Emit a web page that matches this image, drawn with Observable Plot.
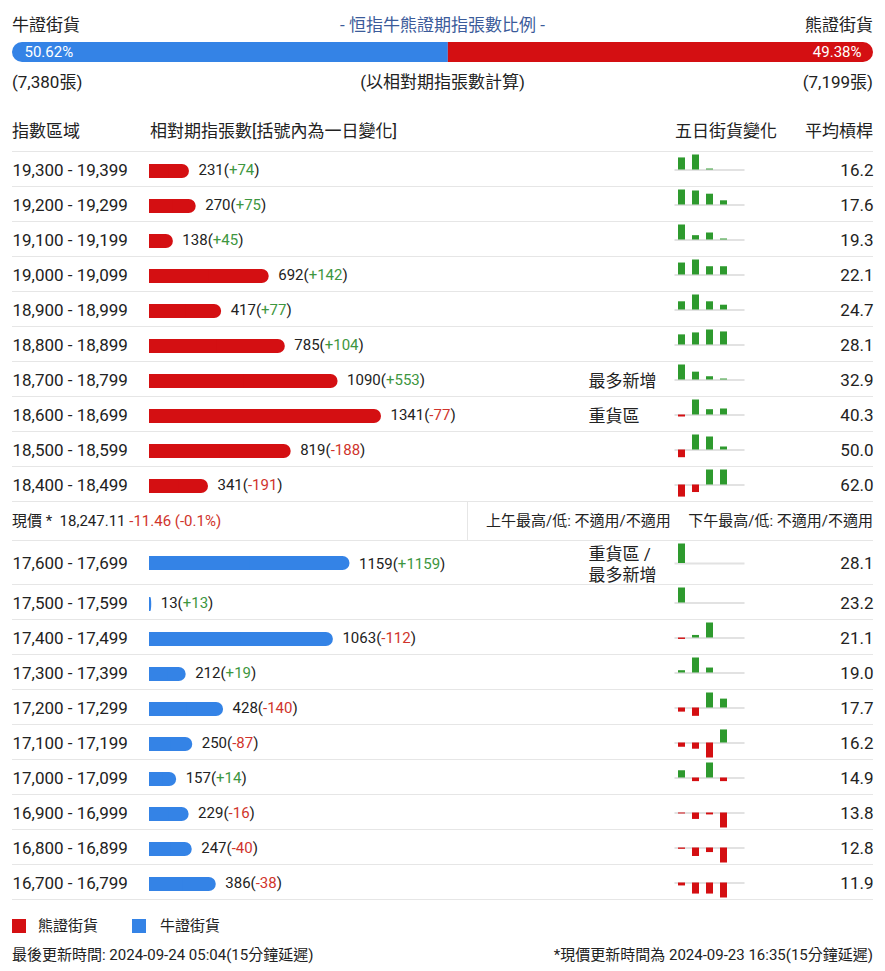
<!DOCTYPE html>
<html><head><meta charset="utf-8">
<script src="https://cdn.jsdelivr.net/npm/d3@7"></script>
<script src="https://cdn.jsdelivr.net/npm/@observablehq/plot@0.6"></script>
<style>
body{margin:0;background:#fff;font-family:Roboto,"Noto Sans CJK TC",sans-serif;color:#222;}
#page{position:relative;width:885px;height:971px;overflow:hidden;}
.abs{position:absolute;white-space:nowrap;}
.abs svg{display:block;overflow:visible;}
</style></head><body><div id="page"></div>
<script>
// ---------- data ----------
const title = "- 恒指牛熊證期指張數比例 -";
const bullLabel = "牛證街貨", bearLabel = "熊證街貨";
const bullTotal = 7380, bearTotal = 7199;
const basisNote = "(以相對期指張數計算)";
const headers = ["指數區域", "相對期指張數[括號內為一日變化]", "五日街貨變化", "平均槓桿"];

const bearRanges = ["19,300 - 19,399","19,200 - 19,299","19,100 - 19,199","19,000 - 19,099","18,900 - 18,999","18,800 - 18,899","18,700 - 18,799","18,600 - 18,699","18,500 - 18,599","18,400 - 18,499"];
const bearCounts = [231,270,138,692,417,785,1090,1341,819,341];
const bearChanges = [74,75,45,142,77,104,553,-77,-188,-191];
const bearLeverage = [16.2,17.6,19.3,22.1,24.7,28.1,32.9,40.3,50.0,62.0];
const bearNotes = ["","","","","","","最多新增","重貨區","",""];
const bearFiveDay = [
  [74,92,6,0,0],[75,70,54,21,0],[45,13,21,3,0],[142,178,98,98,0],[77,141,77,45,0],
  [104,124,154,134,0],[553,289,120,36,0],[-77,577,204,231,0],[-188,366,317,73,0],[-191,-119,237,237,0]
];

const bullRanges = ["17,600 - 17,699","17,500 - 17,599","17,400 - 17,499","17,300 - 17,399","17,200 - 17,299","17,100 - 17,199","17,000 - 17,099","16,900 - 16,999","16,800 - 16,899","16,700 - 16,799"];
const bullCounts = [1159,13,1063,212,428,250,157,229,247,386];
const bullChanges = [1159,13,-112,19,-140,-87,14,-16,-40,-38];
const bullLeverage = [28.1,23.2,21.1,19.0,17.7,16.2,14.9,13.8,12.8,11.9];
const bullNotes = ["重貨區 /\n最多新增","","","","","","","","",""];
const bullFiveDay = [
  [1159,0,0,0,0],[13,0,0,0,0],[-112,200,1175,0,0],[19,124,41,0,0],[-140,-283,510,302,0],
  [-87,-127,-307,267,0],[14,-7,29,-7,0],[-16,-107,-32,-250,0],[-40,-260,-140,-460,0],[-38,-143,-143,-194,0]
];

const spotLabel = "現價 *";
const spotPrice = 18247.11, spotChange = -11.46, spotPct = -0.1;
const amHighLow = "上午最高/低: 不適用/不適用";
const pmHighLow = "下午最高/低: 不適用/不適用";
const lastUpdate = "最後更新時間: 2024-09-24 05:04(15分鐘延遲)";
const spotUpdate = "*現價更新時間為 2024-09-23 16:35(15分鐘延遲)";

// ---------- style ----------
const FONT = 'Roboto, "Noto Sans CJK TC", sans-serif';
const RED = "#d40f12", BLUE = "#3483e6", GREEN_T = "#3d9640", RED_T = "#d0342c", SGREEN = "#2e9a2e", LINE = "#e6e6e6";
const page = document.getElementById("page");

function place(el, left, top) {
  const d = document.createElement("div");
  d.className = "abs"; d.style.left = left + "px"; d.style.top = top + "px";
  d.append(el); page.append(d); return d;
}
function txt(html, opts) {
  const {left, right, center, cy, size = 17, color = "#222"} = opts;
  const d = document.createElement("div");
  d.className = "abs";
  const lh = Math.round(size * 1.3);
  d.style.cssText += `font-size:${size}px;line-height:${lh}px;top:${cy - lh / 2}px;color:${color};`;
  if (center) { d.style.left = "0px"; d.style.width = "885px"; d.style.textAlign = "center"; }
  else if (right != null) d.style.right = right + "px";
  else d.style.left = left + "px";
  d.innerHTML = html;
  page.append(d); return d;
}
const fmt = d3.format(",");

// ---------- header ----------
txt(bullLabel, {left: 12, cy: 25});
txt(title, {center: true, cy: 25, color: "#3b5b9a"});
txt(bearLabel, {right: 12, cy: 25});

const ratioData = [{side: bullLabel, n: bullTotal}, {side: bearLabel, n: bearTotal}];
const tot = bullTotal + bearTotal;
const pf = d3.format(".2%");
const ratio = Plot.plot({
  width: 885, height: 20, marginTop: 0, marginBottom: 0, marginLeft: 12, marginRight: 12,
  style: {background: "transparent", fontFamily: FONT, overflow: "visible"},
  x: {axis: null, domain: [0, 1]}, y: {axis: null},
  color: {domain: [bullLabel, bearLabel], range: [BLUE, RED]},
  marks: [
    Plot.barX(ratioData, {x: "n", fill: "side", offset: "normalize"}),
    Plot.text([ratioData[0]], {frameAnchor: "left", dx: 12, text: d => pf(d.n / tot), fill: "white", fontSize: 15, textAnchor: "start"}),
    Plot.text([ratioData[1]], {frameAnchor: "right", dx: -12, text: d => pf(d.n / tot), fill: "white", fontSize: 15, textAnchor: "end"})
  ]
});
ratio.style.clipPath = "inset(0px 12px 0px 12px round 10px)";
place(ratio, 0, 42);

txt(`(${fmt(bullTotal)}張)`, {left: 12, cy: 82});
txt(basisNote, {center: true, cy: 82});
txt(`(${fmt(bearTotal)}張)`, {right: 12, cy: 82});

txt(headers[0], {left: 12, cy: 131});
txt(headers[1], {left: 150, cy: 131});
txt(headers[2], {left: 675, cy: 131});
txt(headers[3], {right: 12, cy: 131});

// ---------- sections ----------
const xMax = d3.max([...bearCounts, ...bullCounts]);
function rowsOf(ranges, counts, changes, lev, notes) {
  return ranges.map((r, i) => ({range: r, count: counts[i], change: changes[i], lev: lev[i], note: notes[i]}));
}
function colorize(svg) {
  d3.select(svg).selectAll("text").each(function () {
    const s = this.textContent;
    const m = /^(\d+)\(([+-]\d+)\)$/.exec(s);
    if (!m || this.querySelector("tspan")) return;
    this.textContent = "";
    const parts = [[m[1] + "(", null], [m[2], m[2][0] === "+" ? GREEN_T : RED_T], [")", null]];
    for (const [t, c] of parts) {
      const ts = document.createElementNS("http://www.w3.org/2000/svg", "tspan");
      ts.textContent = t;
      if (c) ts.setAttribute("fill", c);
      this.append(ts);
    }
  });
}
function section(rows, five, color, top, rowH, barTop) {
  const ranges = rows.map(d => d.range);
  const H = rows.length * rowH;
  const it = barTop, ib = rowH - 14 - it;
  const main = Plot.plot({
    width: 885, height: H + 2, marginTop: 1, marginBottom: 1, marginLeft: 12, marginRight: 12,
    style: {background: "transparent", fontFamily: FONT, color: "#222", overflow: "visible"},
    x: {domain: [0, xMax], range: [149, 381], axis: null},
    y: {type: "band", domain: ranges, padding: 0, axis: null},
    marks: [
      Plot.ruleY(ranges, {y: d => d, dy: -rowH / 2, stroke: LINE}),
      Plot.ruleY(ranges.slice(-1), {y: d => d, dy: rowH / 2, stroke: LINE}),
      Plot.barX(rows, {y: "range", x: "count", fill: color, rx: 7, insetTop: it, insetBottom: ib}),
      Plot.barX(rows, {y: "range", x1: 0, x2: d => d.count / 2, fill: color, insetTop: it, insetBottom: ib}),
      Plot.text(rows, {y: "range", frameAnchor: "left", text: "range", textAnchor: "start", fontSize: 17, dy: 1.5}),
      Plot.text(rows, {y: "range", x: "count", dx: 9, dy: 1.5, textAnchor: "start", fontSize: 15,
        text: d => `${d.count}(${d.change >= 0 ? "+" : "-"}${Math.abs(d.change)})`}),
      Plot.text(rows, {y: "range", frameAnchor: "left", dx: 576, dy: 1, text: "note", textAnchor: "start", fontSize: 17, lineHeight: 1.24}),
      Plot.text(rows, {y: "range", frameAnchor: "right", text: d => d.lev.toFixed(1), textAnchor: "end", fontSize: 17, dy: 1.5})
    ]
  });
  colorize(main);
  place(main, 0, top - 1);

  const sdata = rows.flatMap((d, i) => {
    const vals = five[i];
    const m = d3.max(vals, Math.abs) || 1;
    return vals.map((v, j) => ({range: d.range, day: j, v, norm: v / m}));
  });
  const spark = Plot.plot({
    width: 885, height: H + 2, marginTop: 1, marginBottom: 1, marginLeft: 674.5, marginRight: 140.5,
    style: {background: "transparent", overflow: "visible"},
    x: {type: "band", domain: [0, 1, 2, 3, 4], paddingInner: 0.5, paddingOuter: 0.25, axis: null},
    y: {domain: [-1, 1], axis: null, insetTop: 3.5, insetBottom: 1.5},
    fy: {domain: ranges, padding: 0, axis: null},
    facet: {data: sdata, y: "range"},
    marks: [
      Plot.ruleY([0], {stroke: "#e2e2e2", strokeWidth: 2}),
      Plot.barY(sdata, {x: "day", y1: 0, y2: "norm", fill: d => d.v >= 0 ? SGREEN : RED})
    ]
  });
  const sd = place(spark, 0, top - 1);
  sd.style.pointerEvents = "none";
}

const bearRows = rowsOf(bearRanges, bearCounts, bearChanges, bearLeverage, bearNotes);
const bullRows = rowsOf(bullRanges, bullCounts, bullChanges, bullLeverage, bullNotes);
section(bearRows, bearFiveDay, RED, 151, 35, 13);
section(bullRows.slice(0, 1), bullFiveDay.slice(0, 1), BLUE, 540, 44, 16);
section(bullRows.slice(1), bullFiveDay.slice(1), BLUE, 584, 35, 13);

// ---------- spot price row ----------
const sp = d3.format(",.2f")(spotPrice);
const chg = `${spotChange < 0 ? "-" : "+"}${Math.abs(spotChange).toFixed(2)} (${spotPct < 0 ? "-" : "+"}${Math.abs(spotPct)}%)`;
txt(`${spotLabel}&nbsp; ${sp} <span style="color:${RED_T}">${chg}</span>`, {left: 12, cy: 521, size: 15});
const div = document.createElement("div");
div.className = "abs";
div.style.cssText += `left:467px;top:502px;width:1px;height:38px;background:${LINE};`;
page.append(div);
txt(amHighLow, {left: 486, cy: 521, size: 15});
txt(pmHighLow, {right: 12, cy: 521, size: 15});

// ---------- legend & footer ----------
function swatch(left, color) {
  const s = document.createElement("div");
  s.className = "abs";
  s.style.cssText += `left:${left}px;top:919px;width:14px;height:14px;background:${color};`;
  page.append(s);
}
swatch(12, RED); txt(bearLabel, {left: 38, cy: 926, size: 15});
swatch(132, BLUE); txt(bullLabel, {left: 160, cy: 926, size: 15});
txt(lastUpdate, {left: 12, cy: 955, size: 15});
txt(spotUpdate, {right: 12, cy: 955, size: 15});
</script></body></html>
